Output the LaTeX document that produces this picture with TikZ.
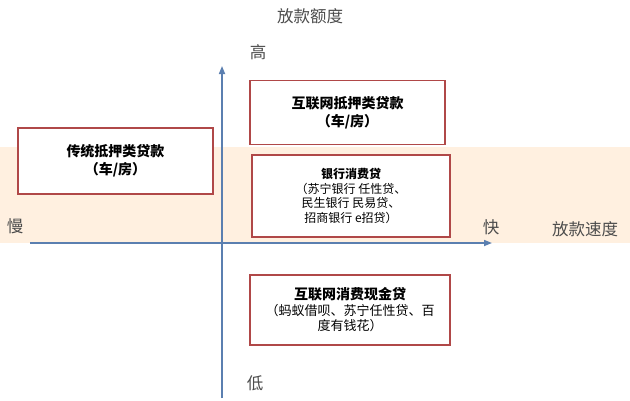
\documentclass[tikz,border=0pt]{standalone}
\usepackage{fontspec}
\setmainfont{Noto Sans CJK SC}
\usetikzlibrary{arrows.meta}
\definecolor{axis}{HTML}{5B7FB0}
\definecolor{boxc}{HTML}{B04848}
\begin{document}
\begin{tikzpicture}[x=1pt,y=-1pt,
  box/.style={draw=boxc,line width=1.2pt,fill=white,align=center,font=\fontsize{14}{18}\selectfont},
  lab/.style={font=\fontsize{16.5}{18}\selectfont,text=black!70}]
\useasboundingbox (0,0) rectangle (630,400);
\fill[white] (0,0) rectangle (630,400);
\fill[orange!12] (0,147) rectangle (630,243);
\coordinate (vb) at (222,398);
\coordinate (vt) at (222,66);
\coordinate (hl) at (30,243);
\coordinate (hr) at (492,243);
\draw[axis,line width=1.6pt,-{Triangle[length=8pt,width=6pt]}] (vb) -- (vt);
\draw[axis,line width=1.6pt,-{Triangle[length=8pt,width=6pt]}] (hl) -- (hr);
\node[lab] (ye) at (310,16) {放款额度};
\node[lab] (hi) at (258,52) {高};
\node[lab] (lo) at (255,383) {低};
\node[lab] (sl) at (15,226) {慢};
\node[lab] (fa) at (491,227) {快};
\node[lab] (sp) at (585,229) {放款速度};
\node[box,minimum width=195pt,minimum height=64pt] (b1) at (347.5,112.5) {\textbf{互联网抵押类贷款}\\\textbf{（车/房）}};
\node[box,minimum width=195pt,minimum height=66pt] (b2) at (115.5,161) {\textbf{传统抵押类贷款}\\\textbf{（车/房）}};
\node[box,minimum width=198pt,minimum height=82pt,font=\fontsize{12}{14.5}\selectfont] (b3) at (351,196) {\textbf{银行消费贷}\\（苏宁银行 任性贷、\\民生银行 民易贷、\\招商银行 e招贷）};
\node[box,minimum width=200pt,minimum height=70pt,font=\fontsize{13}{15.5}\selectfont] (b4) at (350,310) {\textbf{\fontsize{14}{17}\selectfont 互联网消费现金贷}\\（蚂蚁借呗、苏宁任性贷、百\\度有钱花）};
\end{tikzpicture}
\end{document}
